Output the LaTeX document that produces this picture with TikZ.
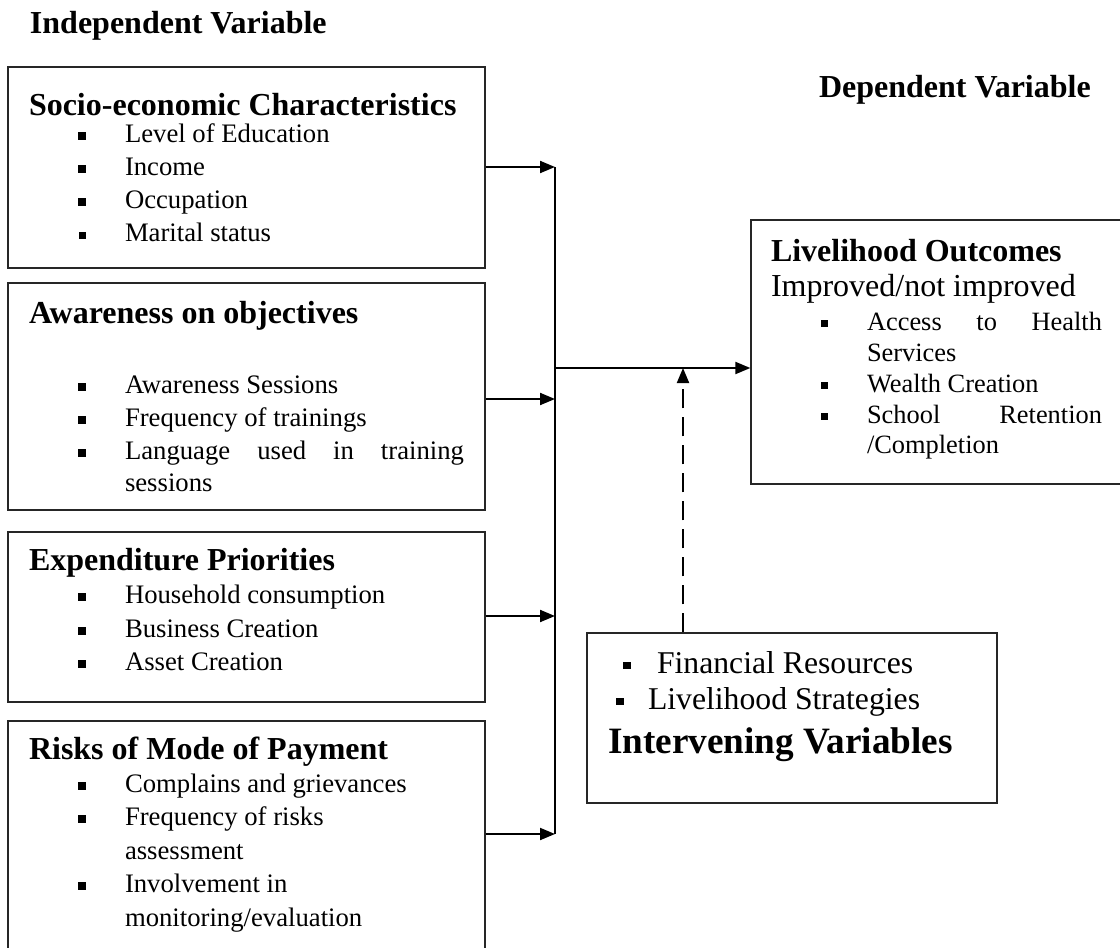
\documentclass[tikz,border=0pt]{standalone}
\usepackage{fontspec}
\setmainfont{Liberation Serif}
\usetikzlibrary{arrows.meta}
\newcommand\sqb[3]{\makebox[#1][l]{\rule[#3]{#2}{#2}}}
\tikzset{
  box/.style={draw=black!85, line width=1.3pt, inner sep=0pt, fill=none},
  txt/.style={anchor=base west, inner sep=0pt, outer sep=0pt},
  hd/.style={txt, font=\fontsize{32}{36}\selectfont\bfseries},
  rg/.style={txt, font=\fontsize{32}{36}\selectfont},
  it/.style={txt, font=\fontsize{26.7}{31}\selectfont},
  lit/.style={txt, font=\fontsize{26.4}{30}\selectfont},
  iv/.style={txt, font=\fontsize{31.7}{35}\selectfont},
  arr/.style={line width=2pt, -{Triangle[length=15pt,width=12pt]}},
}
\begin{document}
\begin{tikzpicture}[x=1pt,y=-1pt]
\useasboundingbox (0,0) rectangle (1120,948);
\fill[white] (0,0) rectangle (1120,948);
\clip (0,0) rectangle (1120,948);

% headers
\node[hd] (indep) at (30,33) {Independent Variable};
\node[hd] (dep) at (819,97) {Dependent Variable};

% boxes
\node[box, minimum width=477pt, minimum height=201pt] (socio) at (246.5,167.5) {};
\node[box, minimum width=477pt, minimum height=227pt] (aware) at (246.5,396.5) {};
\node[box, minimum width=477pt, minimum height=170pt] (expend) at (246.5,617) {};
\node[box, minimum width=477pt, minimum height=249pt] (risks) at (246.5,845.5) {};
\node[box, minimum width=379pt, minimum height=264pt] (liv) at (940.5,352) {};
\node[box, minimum width=410pt, minimum height=170pt] (interv) at (792,718) {};

% socio-economic
\node[hd] (s0) at (29,115) {Socio-economic Characteristics};
\node[it] (s1) at (78,142) {\sqb{47pt}{8pt}{2.5pt}Level of Education};
\node[it] (s2) at (78,175) {\sqb{47pt}{8pt}{2.5pt}Income};
\node[it] (s3) at (78,208) {\sqb{47pt}{8pt}{2.5pt}Occupation};
\node[it] (s4) at (79,241) {\sqb{46pt}{6.5pt}{2.5pt}Marital status};

% awareness
\node[hd] (a0) at (29,323) {Awareness on objectives};
\node[it] (a1) at (78,393) {\sqb{47pt}{8pt}{2.5pt}Awareness Sessions};
\node[it] (a2) at (78,426) {\sqb{47pt}{8pt}{2.5pt}Frequency of trainings};
\node[it] (a3) at (78,459) {\sqb{47pt}{8pt}{2.5pt}\makebox[339pt][s]{Language used in training}};
\node[it] (a4) at (125,491) {sessions};

% expenditure
\node[hd] (e0) at (29,570) {Expenditure Priorities};
\node[it] (e1) at (78,603) {\sqb{47pt}{8pt}{2.5pt}Household consumption};
\node[it] (e2) at (78,637) {\sqb{47pt}{8pt}{2.5pt}Business Creation};
\node[it] (e3) at (78,670) {\sqb{47pt}{8pt}{2.5pt}Asset Creation};

% risks
\node[hd] (r0) at (29,759) {Risks of Mode of Payment};
\node[it] (r1) at (78,792) {\sqb{47pt}{8pt}{2.5pt}Complains and grievances};
\node[it] (r2) at (78,825.5) {\sqb{47pt}{8pt}{2.5pt}Frequency of risks};
\node[it] (r3) at (125,859) {assessment};
\node[it] (r4) at (78,892.5) {\sqb{47pt}{8pt}{2.5pt}Involvement in};
\node[it] (r5) at (125,926) {monitoring/evaluation};

% livelihood outcomes
\node[hd] (l0) at (771,261) {Livelihood Outcomes};
\node[rg] (l1) at (771,296) {Improved/not improved};
\node[lit] (l2) at (821,330) {\sqb{46pt}{7pt}{3pt}\makebox[235pt][s]{Access to Health}};
\node[lit] (l3) at (867,361) {Services};
\node[lit] (l4) at (821,392) {\sqb{46pt}{7pt}{3pt}Wealth Creation};
\node[lit] (l5) at (821,423) {\sqb{46pt}{7pt}{3pt}\makebox[235pt][s]{School Retention}};
\node[lit] (l6) at (867,453) {/Completion};

% intervening
\node[iv] (i1) at (623,673) {\sqb{34pt}{7.5pt}{4pt}Financial Resources};
\node[iv] (i2) at (616,709) {\sqb{32pt}{7.5pt}{4pt}Livelihood Strategies};
\node[txt, font=\fontsize{37.2}{40}\selectfont\bfseries] (i3) at (608,753) {Intervening Variables};

% connectors
\coordinate (bus) at (555,167);
\coordinate (busend) at (555,834);
\coordinate (mid) at (555,368);
\coordinate (dtip) at (683,368);

\draw[line width=1.6pt] (bus) -- (busend);
\draw[arr] (socio.east |- 0,167) -- (bus);
\draw[arr] (aware.east |- 0,399) -- (bus |- 0,399);
\draw[arr] (expend.east |- 0,616) -- (bus |- 0,616);
\draw[arr] (risks.east |- 0,834) -- (busend);
\draw[arr] (mid) -- (mid -| liv.west);
\draw[line width=2pt, dash pattern=on 19pt off 9pt, -{Triangle[length=15pt,width=12pt]}] (interv.north -| dtip) -- (dtip);
\end{tikzpicture}
\end{document}
